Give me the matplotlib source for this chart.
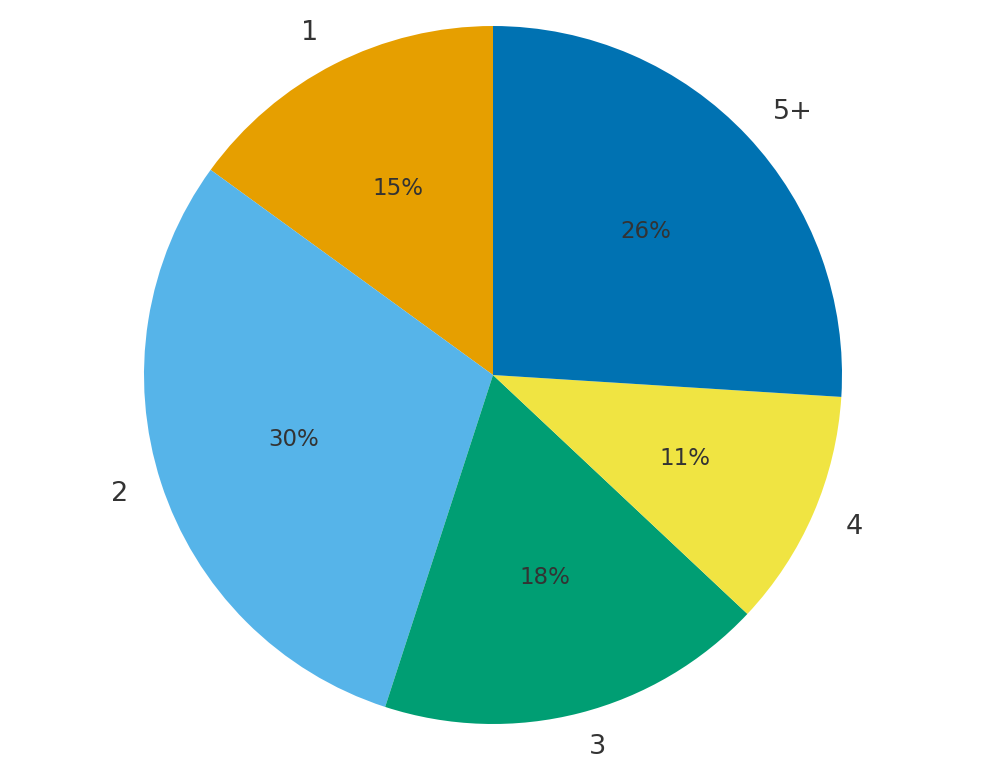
import matplotlib
matplotlib.use("Agg")
import matplotlib.pyplot as plt

categories = ["1", "2", "3", "4", "5+"]
shares = [15, 30, 18, 11, 26]
colors = ["#E69F00", "#56B4E9", "#009E73", "#F0E442", "#0072B2"]

fig = plt.figure(figsize=(10, 7.74), dpi=100)
ax = fig.add_axes([0.144, 0.0646, 0.698, 0.9018])

wedges, texts, autotexts = ax.pie(
    shares,
    labels=categories,
    colors=colors,
    startangle=90,
    counterclock=True,
    autopct="%.0f%%",
    pctdistance=0.6,
    labeldistance=1.1,
    textprops={"color": "#333333"},
)
for t in texts:
    t.set_fontsize(19.5)
for t in autotexts:
    t.set_fontsize(16.5)

ax.set_xlim(-1, 1)
ax.set_ylim(-1, 1)
ax.set_axis_off()

fig.savefig("out.png", dpi=100)
